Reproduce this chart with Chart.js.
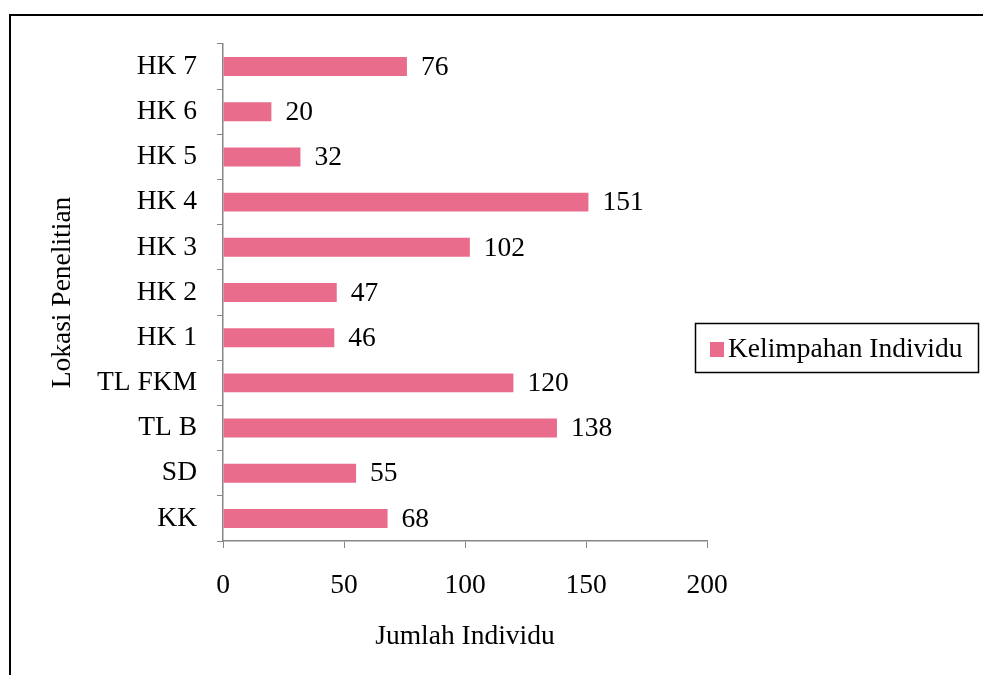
<!DOCTYPE html>
<html>
<head>
<meta charset="utf-8">
<script src="https://cdn.jsdelivr.net/npm/chart.js@4.4.1/dist/chart.umd.min.js"></script>
<style>
  html, body { margin: 0; padding: 0; background: #fff; }
  canvas { display: block; }
</style>
</head>
<body>
<canvas id="kelimpahanChart" width="983" height="675"></canvas>
<script>
// lokasi (dari bawah ke atas) dan jumlah individu
const lokasi = ['KK', 'SD', 'TL B', 'TL FKM', 'HK 1', 'HK 2', 'HK 3', 'HK 4', 'HK 5', 'HK 6', 'HK 7'];
const jumlahIndividu = [68, 55, 138, 120, 46, 47, 102, 151, 32, 20, 76];
const xTicks = [0, 50, 100, 150, 200];
const seriesLabel = 'Kelimpahan Individu';

const FONT = '"Liberation Serif", "Times New Roman", serif';
const SIZE = 27.5;
const PINK = '#EA6C8D';
const AXIS = '#868686';

// angka di ujung batang
const valueLabels = {
    id: 'valueLabels',
    afterDatasetsDraw(chart) {
        const ctx = chart.ctx;
        const meta = chart.getDatasetMeta(0);
        ctx.save();
        ctx.font = SIZE + 'px ' + FONT;
        ctx.fillStyle = '#000';
        ctx.textAlign = 'left';
        ctx.textBaseline = 'middle';
        meta.data.forEach((bar, i) => {
            ctx.fillText(String(jumlahIndividu[i]), bar.x + 14, bar.y + 1);
        });
        ctx.restore();
    }
};

// bingkai dan kotak legenda
const frameAndLegend = {
    id: 'frameAndLegend',
    afterDraw(chart) {
        const ctx = chart.ctx;
        ctx.save();
        ctx.strokeStyle = '#000';
        ctx.lineWidth = 2;
        ctx.beginPath();
        ctx.moveTo(10, 675);
        ctx.lineTo(10, 15);
        ctx.lineTo(983, 15);
        ctx.stroke();

        ctx.lineWidth = 1.5;
        ctx.strokeRect(695.5, 323.5, 283, 49);
        ctx.fillStyle = chart.data.datasets[0].backgroundColor;
        ctx.fillRect(710, 342, 14, 15);
        ctx.fillStyle = '#000';
        ctx.font = SIZE + 'px ' + FONT;
        ctx.textBaseline = 'middle';
        ctx.fillText(chart.data.datasets[0].label, 728, 350);
        ctx.restore();
    }
};

new Chart(document.getElementById('kelimpahanChart'), {
    type: 'bar',
    data: {
        labels: lokasi,
        datasets: [{
            label: seriesLabel,
            data: jumlahIndividu,
            backgroundColor: PINK,
            borderWidth: 0,
            categoryPercentage: 1,
            barPercentage: 0.42
        }]
    },
    options: {
        indexAxis: 'y',
        responsive: false,
        animation: false,
        layout: { padding: { left: 12, right: 276, top: 44, bottom: 12 } },
        plugins: {
            legend: { display: false },
            tooltip: { enabled: false }
        },
        scales: {
            x: {
                min: 0,
                max: 200,
                afterBuildTicks(scale) {
                    scale.ticks = xTicks.map(v => ({ value: v }));
                },
                afterFit(scale) { scale.height = 122; },
                grid: {
                    drawOnChartArea: false,
                    drawTicks: true,
                    tickLength: 7,
                    color: AXIS
                },
                border: { color: AXIS, width: 1.5 },
                ticks: {
                    padding: 21,
                    color: '#000',
                    font: { family: FONT, size: SIZE }
                },
                title: {
                    display: true,
                    text: 'Jumlah Individu',
                    color: '#000',
                    font: { family: FONT, size: SIZE },
                    padding: { top: 0, bottom: 10 }
                }
            },
            y: {
                reverse: true,
                afterFit(scale) { scale.width = 211; },
                grid: {
                    drawOnChartArea: false,
                    drawTicks: true,
                    tickLength: 6,
                    offset: true,
                    color: AXIS
                },
                border: { color: AXIS, width: 1.5 },
                ticks: {
                    padding: 20,
                    color: '#000',
                    font: { family: FONT, size: SIZE }
                },
                title: {
                    display: true,
                    text: 'Lokasi Penelitian',
                    color: '#000',
                    font: { family: FONT, size: SIZE },
                    padding: { top: 34, bottom: 0 }
                }
            }
        }
    },
    plugins: [valueLabels, frameAndLegend]
});
</script>
</body>
</html>
